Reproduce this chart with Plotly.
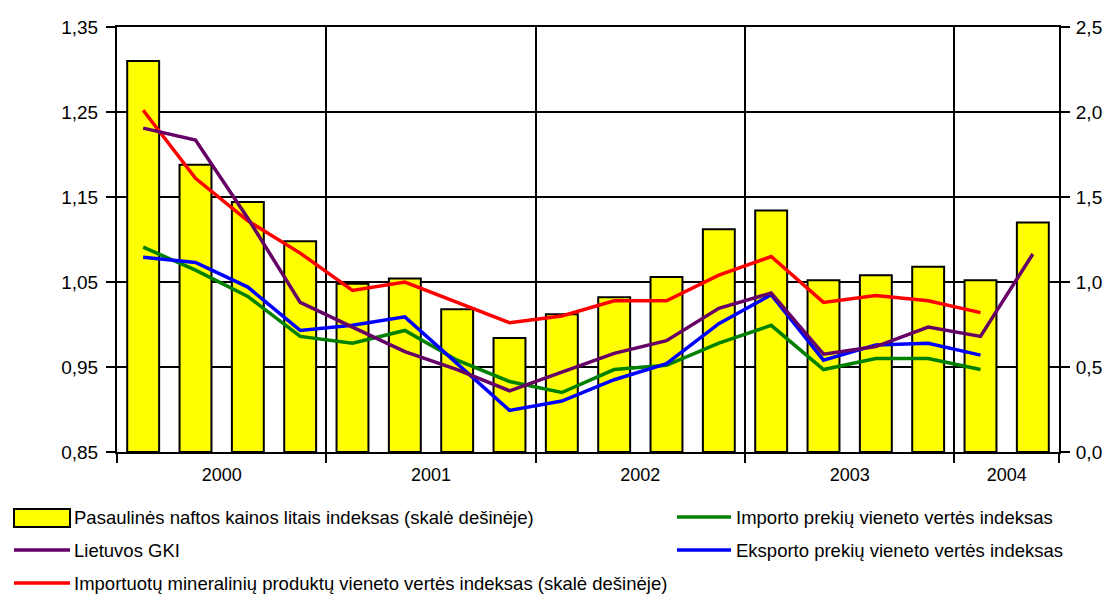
import plotly.graph_objects as go

# ---- data ----
quarters = ["2000 I", "2000 II", "2000 III", "2000 IV",
            "2001 I", "2001 II", "2001 III", "2001 IV",
            "2002 I", "2002 II", "2002 III", "2002 IV",
            "2003 I", "2003 II", "2003 III", "2003 IV",
            "2004 I", "2004 II"]
years = ["2000", "2001", "2002", "2003", "2004"]
year_centers = [1.5, 5.5, 9.5, 13.5, 16.5]
year_bounds = [-0.5, 3.5, 7.5, 11.5, 15.5, 17.5]

oil_index = [2.30, 1.69, 1.47, 1.24, 0.99, 1.02, 0.84, 0.67, 0.81, 0.91,
             1.03, 1.31, 1.42, 1.01, 1.04, 1.09, 1.01, 1.35]
mineral_index = [2.01, 1.61, 1.36, 1.17, 0.95, 1.00, 0.88, 0.76, 0.80, 0.89,
                 0.89, 1.04, 1.15, 0.88, 0.92, 0.89, 0.82]
gki = [1.231, 1.217, 1.125, 1.026, 0.997, 0.968, 0.947, 0.922, 0.944, 0.966,
       0.981, 1.019, 1.037, 0.965, 0.974, 0.997, 0.986, 1.083]
export_index = [1.079, 1.073, 1.044, 0.993, 0.999, 1.009, 0.954, 0.899, 0.910,
                0.935, 0.954, 1.001, 1.035, 0.958, 0.976, 0.978, 0.964]
import_index = [1.091, 1.064, 1.033, 0.986, 0.978, 0.993, 0.958, 0.933, 0.920,
                0.947, 0.952, 0.978, 0.999, 0.947, 0.960, 0.960, 0.947]

names = {
    "oil": "Pasaulinės naftos kainos litais indeksas (skalė dešinėje)",
    "gki": "Lietuvos GKI",
    "mineral": "Importuotų mineralinių produktų vieneto vertės indeksas (skalė dešinėje)",
    "import": "Importo prekių vieneto vertės indeksas",
    "export": "Eksporto prekių vieneto vertės indeksas",
}
colors = {"oil": "#FFFF00", "gki": "#660066", "mineral": "#FF0000",
          "import": "#008000", "export": "#0000FF"}

FONT = "Liberation Sans, Arial, sans-serif"
W, H = 1108, 598
L, R, T, B = 117, 1059, 27, 452
LW = 3.5

x = list(range(len(quarters)))

fig = go.Figure()
# right-hand scale (main axis "y"): bars + red line
fig.add_trace(go.Bar(x=x, y=oil_index, yaxis="y", width=0.61,
                     marker=dict(color=colors["oil"], line=dict(color="black", width=2)),
                     name=names["oil"], showlegend=False))
fig.add_trace(go.Scatter(x=x[:len(mineral_index)], y=mineral_index, yaxis="y", mode="lines",
                         line=dict(color=colors["mineral"], width=LW), name=names["mineral"],
                         showlegend=False))
# left-hand scale (overlay axis "y2"): index lines
fig.add_trace(go.Scatter(x=x[:len(import_index)], y=import_index, yaxis="y2", mode="lines",
                         line=dict(color=colors["import"], width=LW), name=names["import"],
                         showlegend=False))
fig.add_trace(go.Scatter(x=x[:len(export_index)], y=export_index, yaxis="y2", mode="lines",
                         line=dict(color=colors["export"], width=LW), name=names["export"],
                         showlegend=False))
fig.add_trace(go.Scatter(x=x[:len(gki)], y=gki, yaxis="y2", mode="lines",
                         line=dict(color=colors["gki"], width=LW), name=names["gki"],
                         showlegend=False))

TICKF = dict(family=FONT, size=19, color="black")
fig.update_layout(
    width=W, height=H,
    margin=dict(l=L, r=W - R, t=T, b=H - B, autoexpand=False),
    paper_bgcolor="white", plot_bgcolor="white",
    separators=", ",
    font=dict(family=FONT, size=18, color="black"),
    showlegend=False,
    xaxis=dict(range=[-0.5, 17.5], tickvals=year_centers, ticktext=years,
               ticks="", showgrid=False, zeroline=False, automargin=False,
               showline=True, linecolor="black", linewidth=2, mirror=True,
               ticklabelstandoff=5,
               tickfont=dict(family=FONT, size=18, color="black"),
               minor=dict(tickvals=year_bounds, ticks="outside", ticklen=9,
                          tickwidth=2, tickcolor="black",
                          showgrid=True, gridcolor="black", gridwidth=2)),
    yaxis=dict(range=[0, 2.5], dtick=0.5, tickformat=".1f", side="right",
               ticks="outside", ticklen=9, tickwidth=2, tickcolor="black",
               showgrid=False, zeroline=False, automargin=False,
               showline=True, linecolor="black", linewidth=2,
               ticklabelstandoff=2, tickfont=TICKF),
    yaxis2=dict(range=[0.85, 1.35], tick0=0.85, dtick=0.1, tickformat=".2f",
                overlaying="y", side="left",
                ticks="outside", ticklen=9, tickwidth=2, tickcolor="black",
                showgrid=True, gridcolor="black", gridwidth=2, zeroline=False,
                automargin=False,
                showline=True, linecolor="black", linewidth=2,
                ticklabelstandoff=4, tickfont=TICKF),
)

# ---- legend drawn by hand (two columns, like the original) ----
def px_x(p):
    return (p - L) / (R - L)

def px_y(p):
    return (B - p) / (B - T)

shapes = []
annotations = []
shapes.append(dict(type="rect", xref="paper", yref="paper",
                   x0=px_x(14), x1=px_x(70), y0=px_y(527), y1=px_y(509),
                   fillcolor=colors["oil"], line=dict(color="black", width=2)))
for key, yy, x0, x1 in [("gki", 550, 14, 70), ("mineral", 583, 14, 70),
                        ("import", 517, 677, 731), ("export", 550, 677, 731)]:
    shapes.append(dict(type="line", xref="paper", yref="paper",
                       x0=px_x(x0), x1=px_x(x1), y0=px_y(yy), y1=px_y(yy),
                       line=dict(color=colors[key], width=LW)))
for key, yy, tx in [("oil", 517, 72), ("gki", 550, 72), ("mineral", 583, 72),
                    ("import", 517, 734), ("export", 550, 734)]:
    annotations.append(dict(xref="paper", yref="paper", x=px_x(tx), y=px_y(yy),
                            xanchor="left", yanchor="middle", showarrow=False,
                            text=names[key], font=dict(family=FONT, size=18.5, color="black")))
fig.update_layout(shapes=shapes, annotations=annotations)

fig.write_html("out.html", config={"displayModeBar": False},
               post_script="document.body.style.margin='0';")
